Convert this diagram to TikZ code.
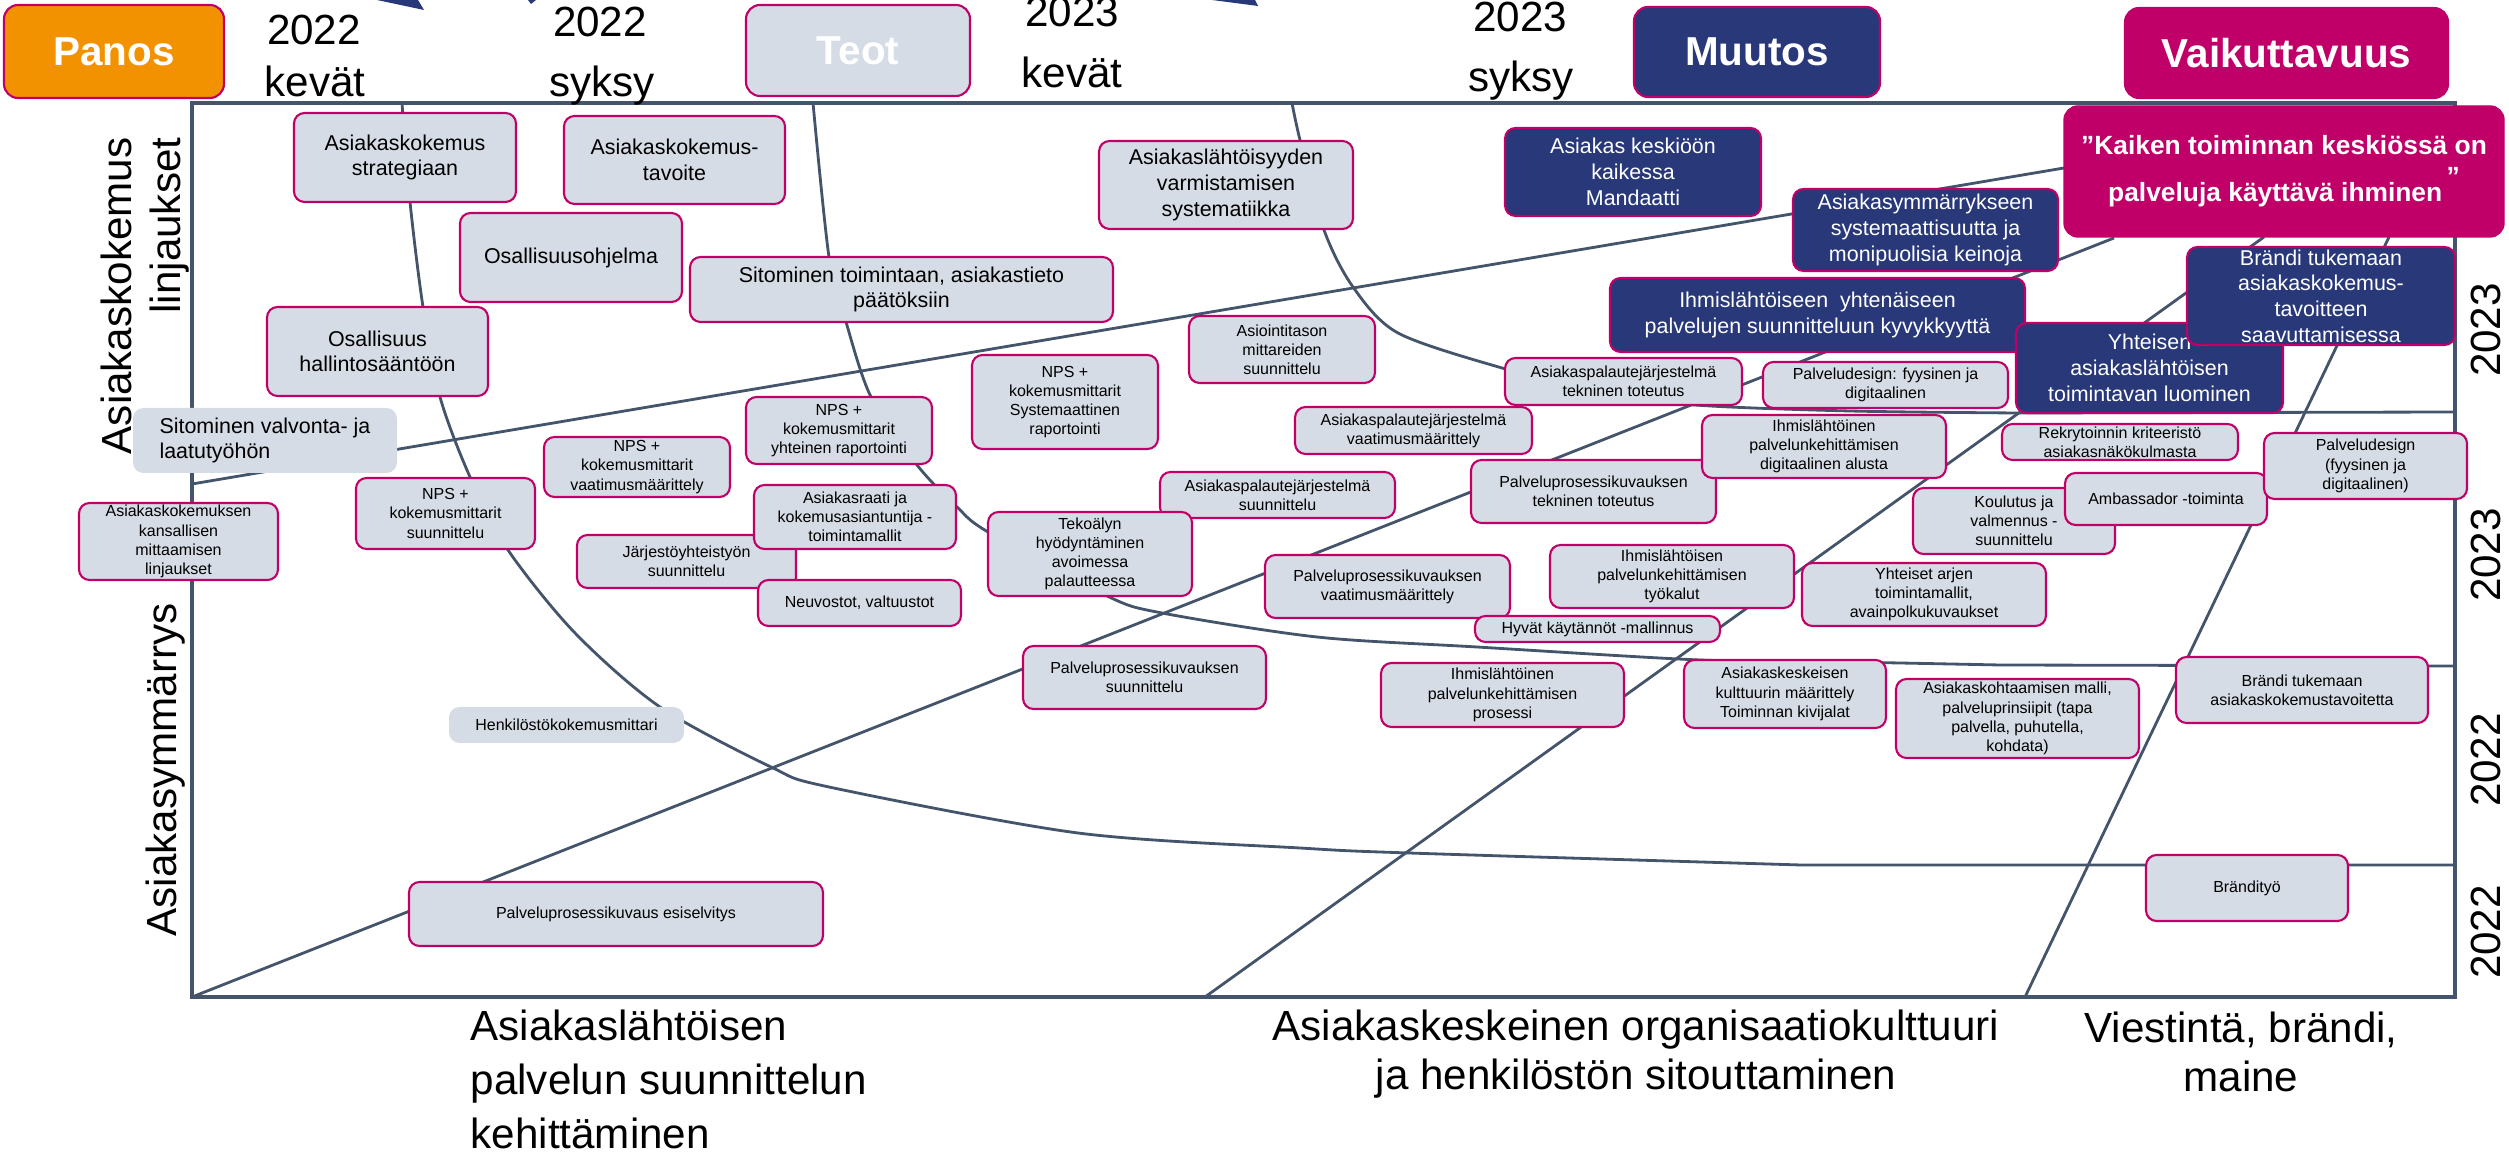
\documentclass[tikz,border=0pt]{standalone}
\usepackage{fontspec}
\setmainfont{Liberation Sans}
\usepackage{xcolor}
\usepackage{tikz}
\usetikzlibrary{positioning}
\definecolor{boxgray}{HTML}{D6DCE5}
\definecolor{mag}{HTML}{C00068}
\definecolor{navy}{HTML}{283879}
\definecolor{orng}{HTML}{F39200}
\definecolor{slate}{HTML}{44546A}

\begin{document}
\begin{tikzpicture}[
    lb/.style={rectangle, draw=mag, line width=0.6pt, fill=boxgray, rounded corners=3pt, align=center, inner sep=0.3pt, font=\fontsize{4.55}{5.45}\selectfont},
    lbig/.style={lb, font=\fontsize{6.1}{7.3}\selectfont},
    db/.style={lbig, fill=navy, text=white},
    nb/.style={draw=none},
    kb/.style={rectangle, draw=mag, fill=mag, rounded corners=4pt, text=white, align=center, font=\fontsize{7.5}{13.3}\selectfont\bfseries},
    hd/.style={rectangle, draw=mag, line width=0.6pt, rounded corners=4pt, text=white, font=\fontsize{11.5}{13}\selectfont\bfseries},
    yr/.style={inner sep=0pt, font=\fontsize{12}{14}\selectfont},
    sz/.style 2 args={minimum width=#1cm, minimum height=#2cm},
    tl/.style={draw=slate, line width=0.8pt},
    frm/.style={draw=slate, line width=1.1pt},
  ]
    \useasboundingbox (0,0) rectangle (25.09,-11.53);

    % Frame
    \coordinate (tl0) at (1.92,-1.03);
    \coordinate (tr0) at (24.55,-1.03);
    \coordinate (br0) at (24.55,-9.97);
    \coordinate (bl0) at (1.92,-9.97);
    \draw[frm] (tl0) -- (tr0) -- (br0) -- (bl0) -- cycle;

    % Arrow tips cut by the top edge
    \fill[navy] (3.77,0) -- (4.18,0) -- (4.24,-0.10) -- cycle;
    \fill[navy] (5.28,0) -- (5.36,0) -- (5.31,-0.04) -- cycle;
    \fill[navy] (12.12,0) -- (12.55,0) -- (12.58,-0.06) -- cycle;

    % Half-year curves
    \draw[tl] plot[smooth] coordinates {(4.02,-1.03) (4.10,-2.02) (4.23,-3.07) (4.40,-3.97) (4.70,-4.77) (5.08,-5.50) (5.75,-6.33) (6.60,-7.07) (7.71,-7.67) (8.29,-7.87) (10.78,-8.33) (13.00,-8.48) (14.09,-8.53) (18.01,-8.65)} -- (24.55,-8.65);
    \draw[tl] plot[smooth] coordinates {(8.13,-1.03) (8.29,-2.57) (8.46,-3.22) (8.71,-3.97) (9.17,-4.65) (9.57,-5.07) (9.88,-5.32) (11.07,-5.96) (11.62,-6.13) (13.17,-6.37) (14.77,-6.47) (17.00,-6.60) (18.46,-6.62) (20.00,-6.65)} -- (24.55,-6.66);
    \draw[tl] plot[smooth] coordinates {(12.92,-1.03) (13.00,-1.40) (13.24,-2.30) (13.53,-2.87) (13.98,-3.33) (15.02,-3.68) (16.00,-3.92) (16.95,-4.05) (18.50,-4.11) (20.17,-4.13)} -- (24.55,-4.12);

    % Theme lines
    \draw[tl] (1.92,-4.84) -- (20.64,-1.68);
    \draw[tl] (bl0) -- (21.14,-2.38);
    \draw[tl] (12.05,-9.97) -- (22.64,-2.37);
    \draw[tl] (20.25,-9.97) -- (23.89,-2.37);

    % Header
    \node[hd, fill=orng, sz={2.20}{0.93}] (panos) at (1.14,-0.515) {Panos};
    \node[hd, fill=boxgray, sz={2.24}{0.91}] (teot) at (8.58,-0.505) {Teot};
    \node[hd, fill=navy, sz={2.46}{0.90}] (muutos) at (17.57,-0.52) {Muutos};
    \node[hd, fill=mag, sz={3.23}{0.90}] (vaik) at (22.865,-0.53) {Vaikuttavuus};

    \node[yr, anchor=base] (k22a) at (3.14,-0.45) {2022};
    \node[yr, anchor=base] (k22b) at (3.15,-0.97) {kevät};
    \node[yr, anchor=base] (s22a) at (6.00,-0.37) {2022};
    \node[yr, anchor=base] (s22b) at (6.02,-0.97) {syksy};
    \node[yr, anchor=base] (k23a) at (10.72,-0.27) {2023};
    \node[yr, anchor=base] (k23b) at (10.72,-0.88) {kevät};
    \node[yr, anchor=base] (s23a) at (15.20,-0.32) {2023};
    \node[yr, anchor=base] (s23b) at (15.21,-0.92) {syksy};

    % Axis labels
    \node[yr, rotate=90, anchor=base east] (vk1) at (1.31,-1.37) {Asiakaskokemus};
    \node[yr, rotate=90, anchor=base east] (vk2) at (1.80,-1.37) {linjaukset};
    \node[yr, rotate=90, anchor=base east] (vas) at (1.76,-6.03) {Asiakasymmärrys};

    \node[yr, rotate=90, anchor=base] (r1) at (25.00,-3.30) {2023};
    \node[yr, rotate=90, anchor=base] (r2) at (25.00,-5.55) {2023};
    \node[yr, rotate=90, anchor=base] (r3) at (25.00,-7.60) {2022};
    \node[yr, rotate=90, anchor=base] (r4) at (25.00,-9.32) {2022};

    \node[yr, anchor=north west, align=left, font=\fontsize{12}{15.4}\selectfont] (xa) at (4.70,-10.09) {Asiakaslähtöisen\\palvelun suunnittelun\\kehittäminen};
    \node[yr, anchor=north, align=center] (xb) at (16.36,-10.09) {Asiakaskeskeinen organisaatiokulttuuri\\ja henkilöstön sitouttaminen};
    \node[yr, anchor=north, align=center] (xc) at (22.41,-10.11) {Viestintä, brändi,\\maine};

    % Linjaukset
    \node[lbig, sz={2.22}{0.89}] (strat) at (4.05,-1.575) {Asiakaskokemus\\strategiaan};
    \node[lbig, sz={2.21}{0.88}] (tavo) at (6.745,-1.60) {Asiakaskokemus-\\tavoite};
    \node[lbig, sz={2.22}{0.89}] (osoh) at (5.71,-2.575) {Osallisuusohjelma};
    \node[lbig, sz={4.23}{0.65}] (sitt) at (9.015,-2.895) {Sitominen toimintaan, asiakastieto\\päätöksiin};
    \node[lbig, sz={2.21}{0.89}] (osha) at (3.775,-3.515) {Osallisuus\\hallintosääntöön};
    \node[lbig, sz={2.54}{0.88}] (syst) at (12.26,-1.85) {Asiakaslähtöisyyden\\varmistamisen\\systematiikka};
    \node[lbig, nb, align=left, sz={2.64}{0.65}] (sival) at (2.65,-4.405) {Sitominen valvonta- ja\\laatutyöhön};

    % Mittarit ja palaute
    \node[lb, sz={1.99}{0.77}] (kans) at (1.785,-5.415) {Asiakaskokemuksen\\kansallisen\\mittaamisen\\linjaukset};
    \node[lb, sz={1.79}{0.71}] (npss) at (4.455,-5.135) {NPS +\\kokemusmittarit\\suunnittelu};
    \node[lb, sz={1.86}{0.60}] (npsv) at (6.37,-4.67) {NPS +\\kokemusmittarit\\vaatimusmäärittely};
    \node[lb, sz={1.86}{0.67}] (npsy) at (8.39,-4.305) {NPS +\\kokemusmittarit\\yhteinen raportointi};
    \node[lb, sz={1.86}{0.94}] (npsj) at (10.65,-4.02) {NPS +\\kokemusmittarit\\Systemaattinen\\raportointi};
    \node[lb, sz={2.19}{0.53}] (jarj) at (6.865,-5.615) {Järjestöyhteistyön\\suunnittelu};
    \node[lb, sz={2.02}{0.64}] (raati) at (8.55,-5.17) {Asiakasraati ja\\kokemusasiantuntija -\\toimintamallit};
    \node[lb, sz={2.03}{0.46}] (neuv) at (8.595,-6.03) {Neuvostot, valtuustot};
    \node[lb, nb, sz={2.35}{0.36}] (henk) at (5.665,-7.25) {Henkilöstökokemusmittari};
    \node[lb, sz={1.86}{0.67}] (asio) at (12.82,-3.495) {Asiointitason\\mittareiden\\suunnittelu};
    \node[lb, sz={2.35}{0.46}] (aps) at (12.775,-4.95) {Asiakaspalautejärjestelmä\\suunnittelu};
    \node[lb, sz={2.04}{0.84}] (teko) at (10.90,-5.54) {Tekoälyn\\hyödyntäminen\\avoimessa\\palautteessa};
    \node[lb, sz={2.37}{0.47}] (apv) at (14.135,-4.305) {Asiakaspalautejärjestelmä\\vaatimusmäärittely};
    \node[lb, sz={2.37}{0.47}] (apt) at (16.235,-3.815) {Asiakaspalautejärjestelmä\\tekninen toteutus};

    % Palvelun suunnittelu
    \node[lb, sz={2.45}{0.46}] (pdfd) at (18.855,-3.85) {Palveludesign: fyysinen ja\\digitaalinen};
    \node[lb, sz={2.45}{0.63}] (ppt) at (15.935,-4.915) {Palveluprosessikuvauksen\\tekninen toteutus};
    \node[lb, sz={2.44}{0.63}] (ihda) at (18.24,-4.465) {Ihmislähtöinen\\palvelunkehittämisen\\digitaalinen alusta};
    \node[lb, sz={2.45}{0.63}] (ppv) at (13.875,-5.865) {Palveluprosessikuvauksen\\vaatimusmäärittely};
    \node[lb, sz={2.44}{0.63}] (ihty) at (16.72,-5.765) {Ihmislähtöisen\\palvelunkehittämisen\\työkalut};
    \node[lb, sz={2.45}{0.26}] (hyva) at (15.975,-6.29) {Hyvät käytännöt -mallinnus};
    \node[lb, sz={2.43}{0.63}] (pps) at (11.445,-6.775) {Palveluprosessikuvauksen\\suunnittelu};
    \node[lb, sz={4.14}{0.64}] (ppe) at (6.16,-9.14) {Palveluprosessikuvaus esiselvitys};
    \node[lb, sz={2.43}{0.64}] (ihpr) at (15.025,-6.95) {Ihmislähtöinen\\palvelunkehittämisen\\prosessi};

    % Kulttuuri ja brändi
    \node[lb, sz={2.02}{0.68}] (akk) at (17.85,-6.94) {Asiakaskeskeisen\\kulttuurin määrittely\\Toiminnan kivijalat};
    \node[lb, sz={2.43}{0.79}] (akm) at (20.175,-7.185) {Asiakaskohtaamisen malli,\\palveluprinsiipit (tapa\\palvella, puhutella,\\kohdata)};
    \node[lb, sz={2.44}{0.63}] (yhar) at (19.24,-5.945) {Yhteiset arjen\\toimintamallit,\\avainpolkukuvaukset};
    \node[lb, sz={2.36}{0.36}] (rekr) at (21.20,-4.42) {Rekrytoinnin kriteeristö\\asiakasnäkökulmasta};
    \node[lb, sz={2.02}{0.66}] (koul) at (20.14,-5.21) {Koulutus ja\\valmennus -\\suunnittelu};
    \node[lb, sz={2.02}{0.52}] (amba) at (21.66,-4.99) {Ambassador -toiminta};
    \node[lb, sz={2.03}{0.66}] (pdsg) at (23.655,-4.66) {Palveludesign\\(fyysinen ja\\digitaalinen)};
    \node[lb, sz={2.52}{0.66}] (brak) at (23.02,-6.90) {Brändi tukemaan\\asiakaskokemustavoitetta};
    \node[lb, sz={2.02}{0.66}] (brty) at (22.47,-8.88) {Brändityö};

    % Muutos
    \node[db, sz={2.56}{0.88}] (mand) at (16.33,-1.72) {Asiakas keskiöön\\kaikessa\\Mandaatti};
    \node[db, sz={2.65}{0.82}] (asym) at (19.255,-2.30) {Asiakasymmärrykseen\\systemaattisuutta ja\\monipuolisia keinoja};
    \node[db, sz={4.15}{0.74}] (ihyh) at (18.175,-3.15) {Ihmislähtöiseen\ \ yhtenäiseen\\palvelujen suunnitteluun kyvykkyyttä};
    \node[db, sz={2.67}{0.90}] (yhte) at (21.495,-3.68) {Yhteisen\\asiakaslähtöisen\\toimintavan luominen};
    \node[db, sz={2.68}{0.98}] (brts) at (23.21,-2.96) {Brändi tukemaan\\asiakaskokemus-\\tavoitteen\\saavuttamisessa};

    % Vaikuttavuus
    \node[kb, sz={4.40}{1.31}] (kaik) at (22.84,-1.715) {”Kaiken toiminnan keskiössä on\\palveluja käyttävä ihminen\,\raisebox{4.5pt}{”}};

  \end{tikzpicture}
\end{document}
